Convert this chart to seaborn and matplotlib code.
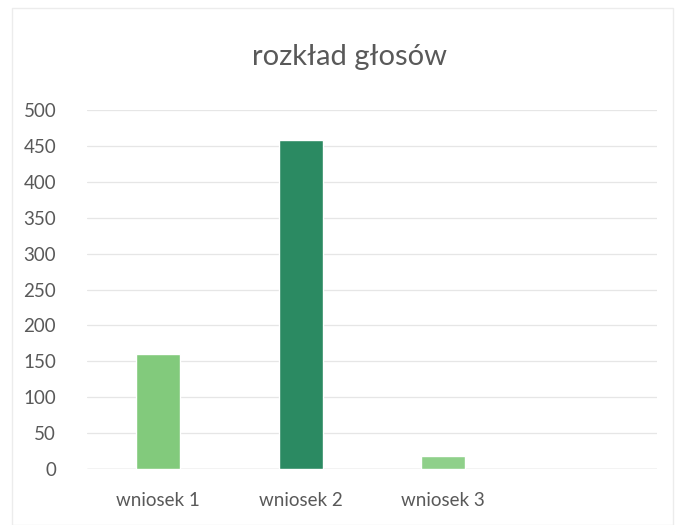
import matplotlib
matplotlib.use("Agg")
import matplotlib.pyplot as plt
import seaborn as sns
import pandas as pd
import numpy as np

# Data
categories = ["wniosek 1", "wniosek 2", "wniosek 3"]
votes = [160, 458, 18]
bar_colors = ["#82ca7c", "#2b8a62", "#8fd08a"]

df = pd.DataFrame({"wniosek": categories, "glosy": votes})

sns.set_style("white")
plt.rcParams["font.family"] = ["Lato", "DejaVu Sans"]

fig = plt.figure(figsize=(6.78, 5.25), dpi=100)
ax = fig.add_axes([0.128, 0.107, 0.841, 0.683])

sns.barplot(data=df, x="wniosek", y="glosy", hue="wniosek", palette=bar_colors,
            width=0.31, legend=False, ax=ax, zorder=3, saturation=1)

ax.set_xlim(-0.5, 3.5)
ax.set_ylim(0, 500)
ax.set_yticks(np.arange(0, 501, 50))
ax.yaxis.grid(True, color="#e6e6e6", linewidth=0.9, zorder=0)
ax.set_axisbelow(True)
for s in ax.spines.values():
    s.set_visible(False)
ax.axhline(0, color="#d4d4d4", linewidth=1, zorder=2)
ax.tick_params(axis="both", length=0, labelsize=13.5, colors="#595959")
ax.tick_params(axis="x", pad=17)
ax.tick_params(axis="y", pad=22)
ax.set_xlabel("")
ax.set_ylabel("")

fig.text(0.515, 0.892, "rozkład głosów", ha="center", va="center",
         fontsize=21, color="#595959")

# faint chart frame
fig.patches.append(plt.Rectangle((0.018, 0.0), 0.975, 0.985, transform=fig.transFigure,
                                 fill=False, edgecolor="#ececec", linewidth=1))

fig.savefig("out.png", dpi=100)
